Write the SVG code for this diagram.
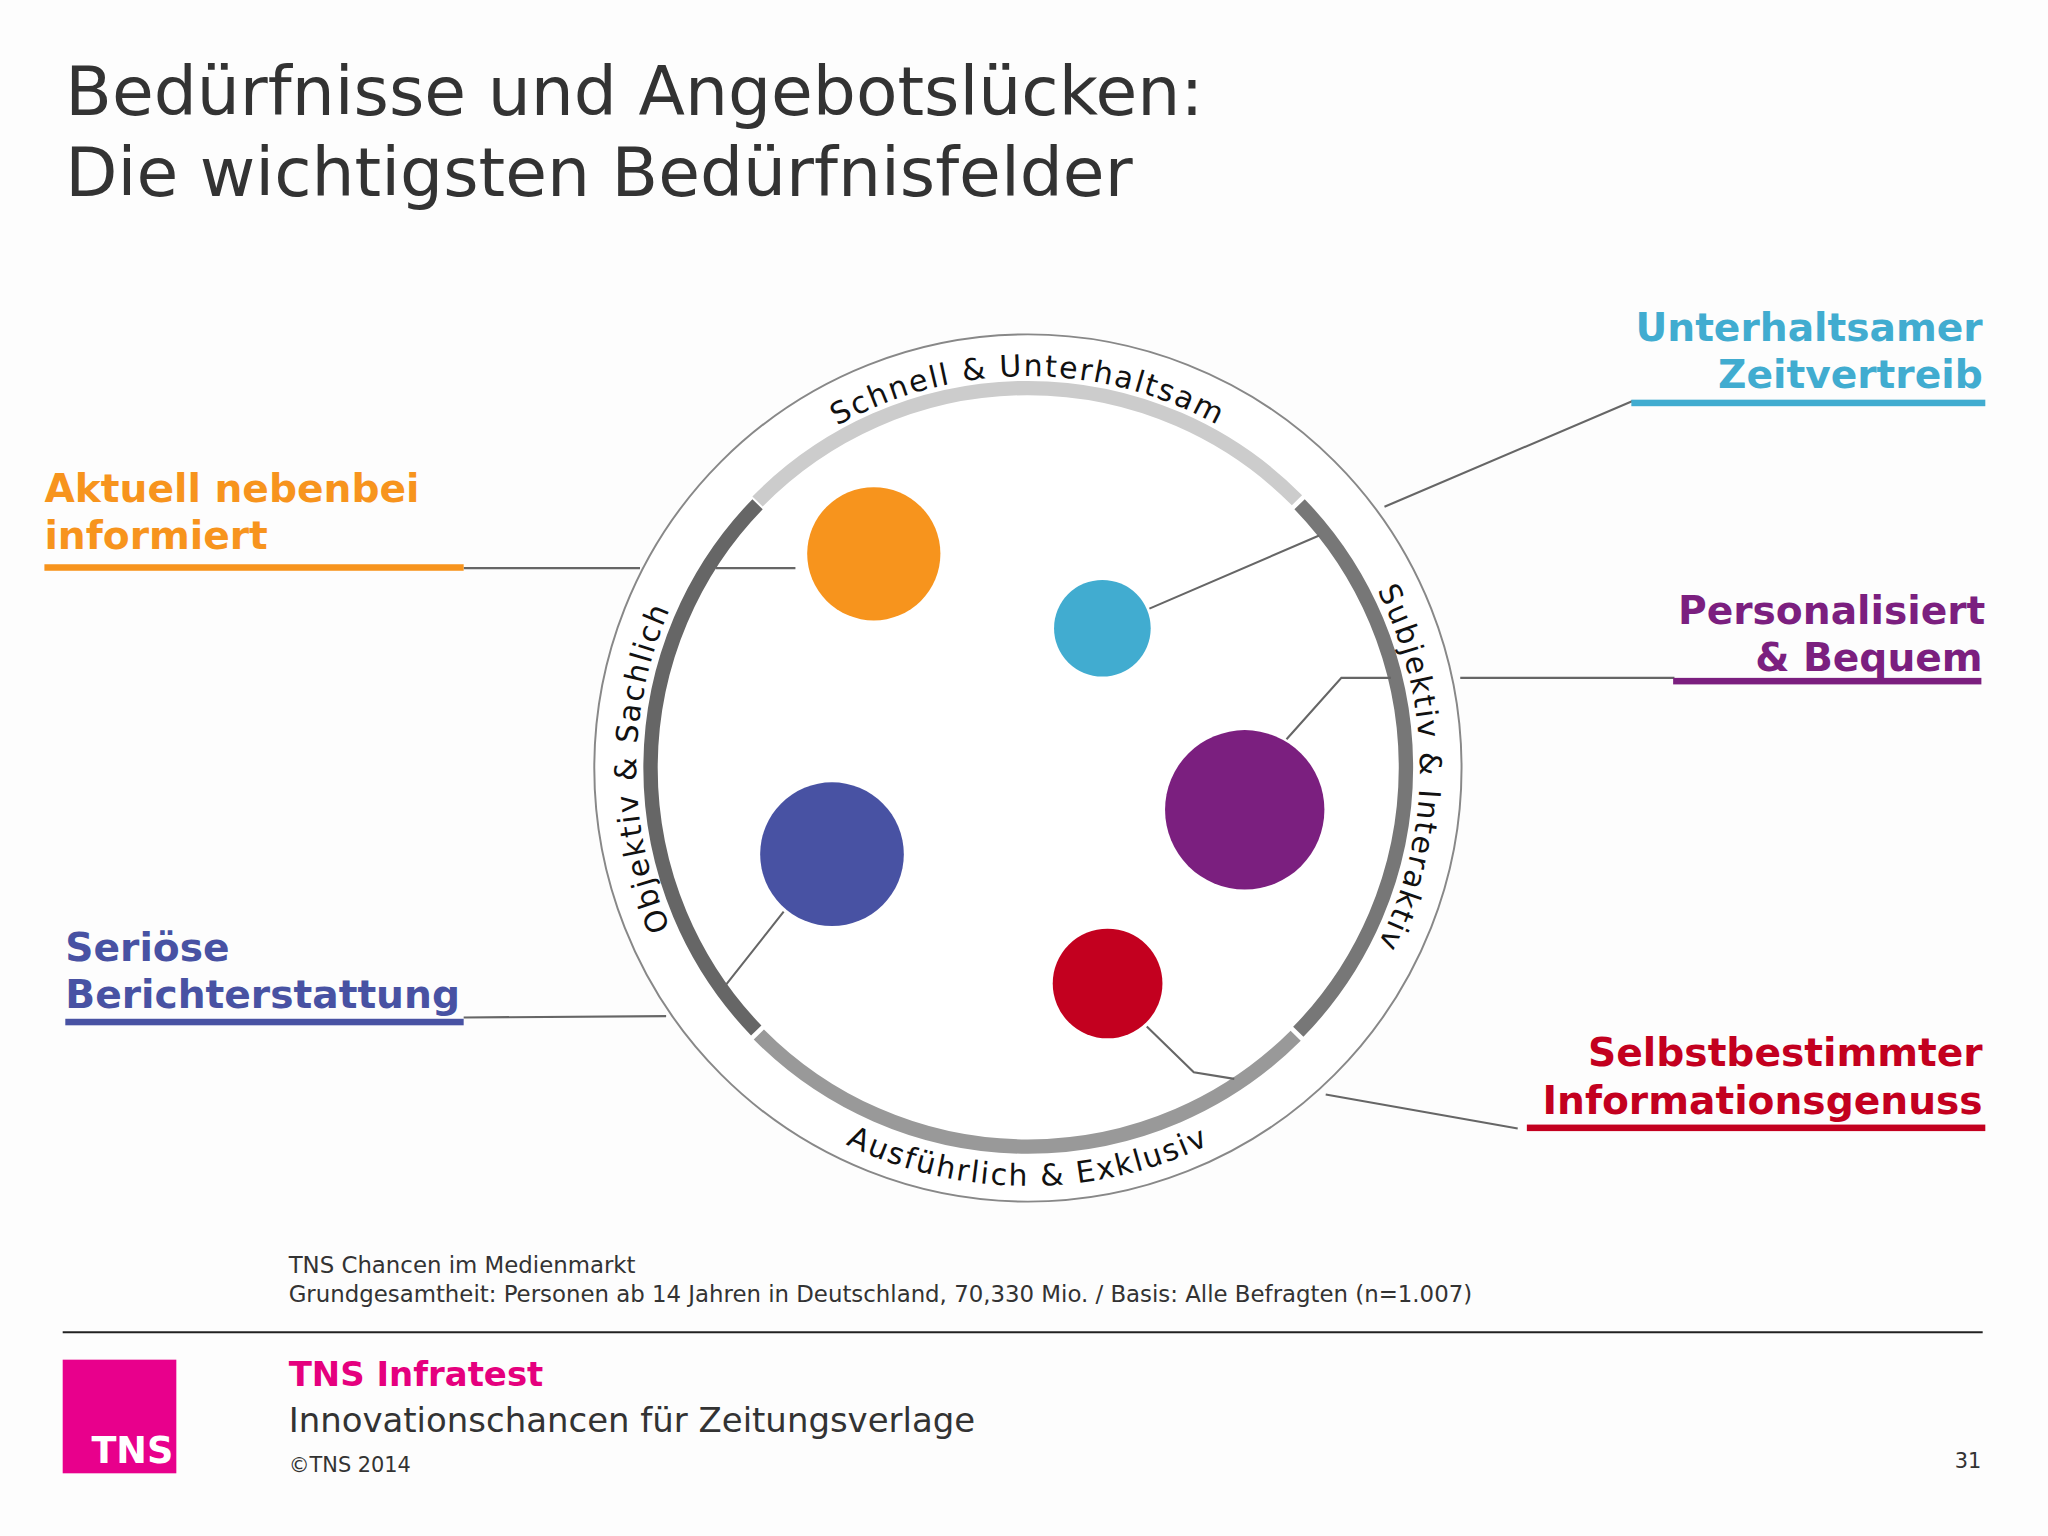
<svg xmlns="http://www.w3.org/2000/svg" width="2048" height="1536" viewBox="0 0 2048 1536">
<style>
.t{font-family:"DejaVu Sans",Verdana,sans-serif;fill:#333}
.lb{font-family:"DejaVu Sans",Verdana,sans-serif;font-weight:bold;font-size:30px}
.arc{font-family:"DejaVu Sans",Verdana,sans-serif;font-size:23px;fill:#111;letter-spacing:1.5px}
.c{fill:none;stroke:#666;stroke-width:1.6}
</style>
<defs>
<path id="pTop" d="M 487,588 A 300 300 0 0 1 1087,588"/>
<path id="pRight" d="M 787,288 A 300 300 0 0 1 787,888"/>
<path id="pLeft" d="M 787,888 A 297 297 0 0 1 787,288"/>
<path id="pBot" d="M 467,588 A 320 320 0 0 0 1107,588"/>
</defs>
<rect width="2048" height="1536" fill="#fdfdfd"/>
<g transform="scale(1.30612)">
<g id="title" class="t" font-size="52">
<text x="50" y="88">Bedürfnisse und Angebotslücken:</text>
<text x="50" y="150">Die wichtigsten Bedürfnisfelder</text>
</g>
<g id="ring">
<circle cx="787" cy="588" r="332" fill="#fff" stroke="#888" stroke-width="1.5"/>
<path d="M 580,384 A 290 290 0 0 1 993,383" fill="none" stroke="#ccc" stroke-width="11"/>
<path d="M 995,386 A 290 290 0 0 1 994,790" fill="none" stroke="#777" stroke-width="11"/>
<path d="M 992,793 A 290 290 0 0 1 581,792" fill="none" stroke="#999" stroke-width="11"/>
<path d="M 579,789 A 290 290 0 0 1 580,386" fill="none" stroke="#666" stroke-width="11"/>
<text class="arc"><textPath href="#pTop" startOffset="50%" text-anchor="middle">Schnell &amp; Unterhaltsam</textPath></text>
<text class="arc"><textPath href="#pRight" startOffset="50%" text-anchor="middle">Subjektiv &amp; Interaktiv</textPath></text>
<text class="arc"><textPath href="#pLeft" startOffset="50%" text-anchor="middle">Objektiv &amp; Sachlich</textPath></text>
<text class="arc"><textPath href="#pBot" startOffset="50%" text-anchor="middle">Ausführlich &amp; Exklusiv</textPath></text>
</g>
<g id="connectors">
<path class="c" d="M548,435 H609 M355,435 H490"/>
<path class="c" d="M880,466 L1010,410 M1060,388 L1250,307"/>
<path class="c" d="M985,566 L1027,519 H1065 M1118,519 H1282"/>
<path class="c" d="M600,698 L555,755 M355,779 L510,778"/>
<path class="c" d="M878,786 L914,821 L945,826 M1015,838 L1162,864"/>
</g>
<g id="n-orange"><circle cx="669" cy="424" r="51" fill="#f7941d"/>
<text class="lb" fill="#f7941d" x="34" y="384">Aktuell nebenbei</text><text class="lb" fill="#f7941d" x="34" y="420">informiert</text>
<rect x="34" y="432" width="321" height="5" fill="#f7941d"/></g>
<g id="n-cyan"><circle cx="844" cy="481" r="37" fill="#41acd0"/>
<text class="lb" fill="#41acd0" x="1518" y="261" text-anchor="end">Unterhaltsamer</text><text class="lb" fill="#41acd0" x="1518" y="297" text-anchor="end">Zeitvertreib</text>
<rect x="1249" y="306" width="271" height="5" fill="#41acd0"/></g>
<g id="n-purple"><circle cx="953" cy="620" r="61" fill="#7b1f7f"/>
<text class="lb" fill="#7b1f7f" x="1520" y="478" text-anchor="end">Personalisiert</text><text class="lb" fill="#7b1f7f" x="1518" y="514" text-anchor="end">&amp; Bequem</text>
<rect x="1281" y="519" width="236" height="5" fill="#7b1f7f"/></g>
<g id="n-navy"><circle cx="637" cy="654" r="55" fill="#4852a3"/>
<text class="lb" fill="#4852a3" x="50" y="736">Seriöse</text><text class="lb" fill="#4852a3" x="50" y="772">Berichterstattung</text>
<rect x="50" y="780" width="305" height="5" fill="#4852a3"/></g>
<g id="n-red"><circle cx="848" cy="753" r="42" fill="#c3001f"/>
<text class="lb" fill="#c3001f" x="1518" y="816" text-anchor="end">Selbstbestimmter</text><text class="lb" fill="#c3001f" x="1518" y="853" text-anchor="end">Informationsgenuss</text>
<rect x="1169" y="861" width="351" height="5" fill="#c3001f"/></g>
<g id="footer" class="t">
<text x="221" y="975" font-size="17.5">TNS Chancen im Medienmarkt</text>
<text x="221" y="997" font-size="17.5">Grundgesamtheit: Personen ab 14 Jahren in Deutschland, 70,330 Mio. / Basis: Alle Befragten (n=1.007)</text>
<line x1="48" y1="1020" x2="1518" y2="1020" stroke="#222" stroke-width="1.5"/>
<rect x="48" y="1041" width="87" height="87" fill="#e8008c"/>
<text x="70" y="1120" font-size="28" font-weight="bold" style="fill:#fff">TNS</text>
<text x="221" y="1061" font-size="26" font-weight="bold" style="fill:#e5007e">TNS Infratest</text>
<text x="221" y="1096" font-size="26">Innovationschancen für Zeitungsverlage</text>
<text x="221" y="1127" font-size="16">©TNS 2014</text>
<text x="1517" y="1124" font-size="16" text-anchor="end">31</text>
</g>
</g>
</svg>
